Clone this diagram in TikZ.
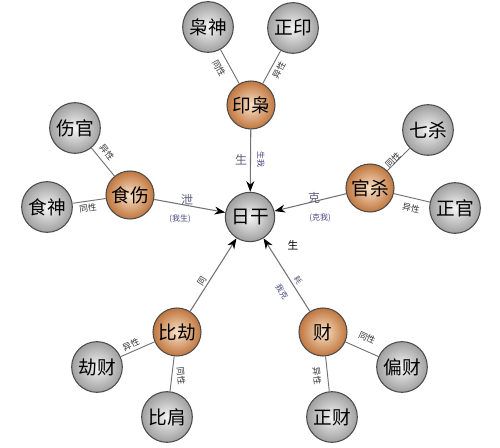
\documentclass[tikz,border=0pt]{standalone}
\usepackage{fontspec}
\setmainfont{Noto Sans CJK SC}
\usetikzlibrary{arrows.meta}
\definecolor{orin}{RGB}{250,226,200}
\definecolor{orout}{RGB}{192,118,62}
\definecolor{navy}{RGB}{70,70,130}
\definecolor{grayblue}{RGB}{95,95,125}
\begin{document}
\begin{tikzpicture}[x=0.75pt,y=-0.75pt,
  ball/.style={circle,draw=black!70,line width=0.8pt,minimum size=38pt,inner sep=0pt,
    shading=radial,inner color=gray!8,outer color=gray!75,font=\fontsize{14}{14}\selectfont},
  oball/.style={ball,minimum size=36pt,inner color=orin,outer color=orout},
  link/.style={draw=black!55,line width=0.7pt},
  arr/.style={draw=black!55,line width=0.8pt,-{Stealth[length=8pt,width=6pt,black]}},
  lab/.style={font=\fontsize{6.5}{7}\selectfont,inner sep=0.5pt,text=black!80},
  big/.style={font=\fontsize{9}{9}\selectfont,inner sep=0.5pt,text=grayblue},
  small/.style={font=\fontsize{6}{6}\selectfont,inner sep=0.5pt,text=navy}
]
\useasboundingbox (0,0) rectangle (500,448);
\fill[white] (0,0) rectangle (500,448);

% centre
\node[ball,minimum size=37pt] (rg) at (250,217) {日干};

% orange nodes
\node[oball] (yx) at (251,105) {印枭};
\node[oball] (ss) at (130,195) {食伤};
\node[oball] (gs) at (370,188) {官杀};
\node[oball] (bj) at (177,332) {比劫};
\node[oball] (cai) at (323,332) {财};

% gray nodes
\node[ball] (xs) at (208,27) {枭神};
\node[ball] (zy) at (293,28) {正印};
\node[ball] (sg) at (75,128) {伤官};
\node[ball] (sj) at (47,207) {食神};
\node[ball] (qs) at (428,130) {七杀};
\node[ball] (zg) at (455,208) {正官};
\node[ball] (jc) at (97,367) {劫财};
\node[ball] (bjian) at (167,417) {比肩};
\node[ball] (pc) at (402,367) {偏财};
\node[ball] (zc) at (332,417) {正财};

% sibling links
\draw[link] (xs) -- (yx);
\draw[link] (zy) -- (yx);
\draw[link] (sg) -- (ss);
\draw[link] (sj) -- (ss);
\draw[link] (qs) -- (gs);
\draw[link] (zg) -- (gs);
\draw[link] (jc) -- (bj);
\draw[link] (bjian) -- (bj);
\draw[link] (pc) -- (cai);
\draw[link] (zc) -- (cai);

% arrows to centre
\draw[arr] (yx) -- (rg);
\draw[arr] (ss) -- (rg);
\draw[arr] (gs) -- (rg);
\draw[arr] (bj) -- (rg);
\draw[arr] (cai) -- (rg);

% sibling labels
\node[lab,rotate=-61] (l1) at (219,68) {同性};
\node[lab,rotate=61] (l2) at (279,70) {异性};
\node[lab,rotate=-51] (l3) at (107,152) {异性};
\node[lab,rotate=8] (l4) at (88,208) {同性};
\node[lab,rotate=45] (l5) at (393,160) {同性};
\node[lab,rotate=-13] (l6) at (411,208) {异性};
\node[lab,rotate=24] (l7) at (131,345) {异性};
\node[lab,rotate=-84] (l8) at (181,376) {同性};
\node[lab,rotate=-24] (l9) at (367,338) {同性};
\node[lab,rotate=-84] (l10) at (317,376) {异性};

% relation labels
\node[big] (t1) at (241,160) {生};
\node[small,rotate=-90] (t2) at (261,160) {生我};
\node[big] (t3) at (187,200) {泄};
\node[small] (t4) at (180,219) {(我生)};
\node[big] (t5) at (314,198) {克};
\node[small] (t6) at (320,218) {(克我)};
\node[font=\fontsize{8}{8}\selectfont,inner sep=0.5pt] (t7) at (293,245) {生};
\node[lab,rotate=57] (t8) at (202,281) {同};
\node[small,rotate=-58,text=grayblue] (t9) at (298,280) {耗};
\node[small,rotate=-58] (t10) at (282,292) {我克};
\end{tikzpicture}
\end{document}
